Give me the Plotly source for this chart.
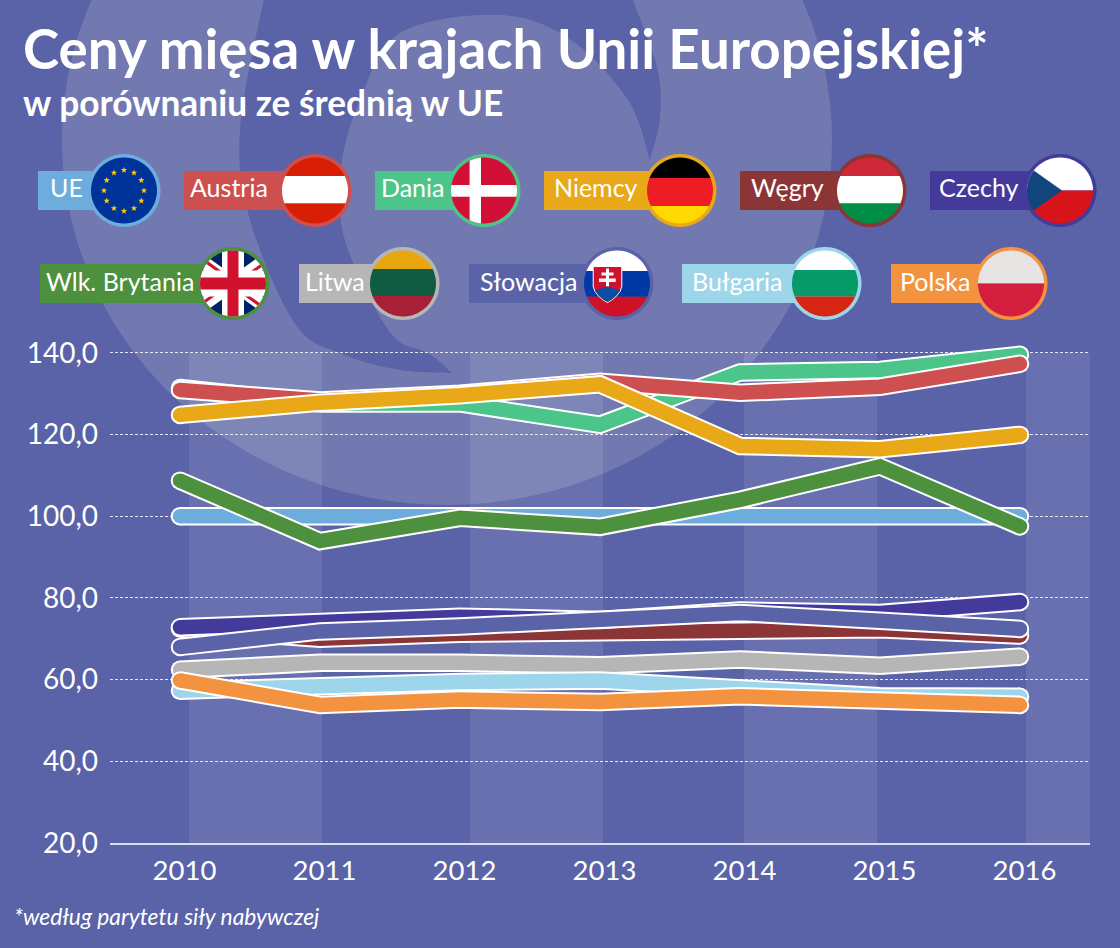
import math
import plotly.graph_objects as go

# ---------- data ----------
years = [2010, 2011, 2012, 2013, 2014, 2015, 2016]
ue = [100, 100, 100, 100, 100, 100, 100]
dania = [131.4, 127.6, 127.6, 122.4, 135.2, 135.8, 139.5]
austria = [130.9, 128.3, 130.0, 132.9, 130.2, 131.7, 137.3]
niemcy = [124.8, 127.8, 129.6, 132.3, 117.2, 116.4, 119.9]
wegry = [72.5, 70.0, 71.2, 71.4, 72.1, 72.3, 70.8]
czechy = [72.8, 74.2, 75.4, 74.6, 76.9, 76.3, 79.0]
slowacja = [68.0, 71.8, 73.0, 74.8, 76.3, 74.4, 72.4]
wlk_brytania = [108.7, 93.9, 99.6, 97.4, 104.0, 112.2, 97.5]
litwa = [62.4, 64.1, 64.1, 63.5, 64.9, 63.4, 65.6]
bulgaria = [57.3, 58.7, 59.4, 59.8, 57.7, 55.9, 55.8]
polska = [59.8, 53.8, 55.1, 54.5, 55.9, 54.6, 53.8]
y_ticks = [20, 40, 60, 80, 100, 120, 140]
y_tick_labels = ["20,0", "40,0", "60,0", "80,0", "100,0", "120,0", "140,0"]
x_tick_labels = ["2010", "2011", "2012", "2013", "2014", "2015", "2016"]

TITLE = "Ceny mięsa w krajach Unii Europejskiej*"
SUBTITLE = "w porównaniu ze średnią w UE"
FOOTNOTE = "*według parytetu siły nabywczej"

# ---------- style ----------
W, H = 1120, 948
BG = "#5a62a8"
LIGHT = "#7279b0"
FONT = "Lato"
series = [
    ("UE", ue, "#6dadde"),
    ("Dania", dania, "#4cc58a"),
    ("Austria", austria, "#cd4f50"),
    ("Niemcy", niemcy, "#e9a818"),
    ("Węgry", wegry, "#8c3537"),
    ("Czechy", czechy, "#433a9c"),
    ("Słowacja", slowacja, BG),
    ("Litwa", litwa, "#b6b6b6"),
    ("Bułgaria", bulgaria, "#9dd6ea"),
    ("Wlk. Brytania", wlk_brytania, "#4d903e"),
    ("Polska", polska, "#f4933f"),
]
colors = {n: c for n, _, c in series}


def X(px):
    return px / W


def Y(py):
    return 1 - py / H


def poly_path(pts):
    return "M" + " L".join(f"{X(x):.5f},{Y(y):.5f}" for x, y in pts) + " Z"


def spline(pts):
    """Catmull-Rom through pts, as cubic Bezier path segments."""
    out = []
    for i in range(len(pts) - 1):
        p0 = pts[max(i - 1, 0)]
        p1 = pts[i]
        p2 = pts[i + 1]
        p3 = pts[min(i + 2, len(pts) - 1)]
        c1 = (p1[0] + (p2[0] - p0[0]) / 6, p1[1] + (p2[1] - p0[1]) / 6)
        c2 = (p2[0] - (p3[0] - p1[0]) / 6, p2[1] - (p3[1] - p1[1]) / 6)
        out.append(
            f"C{X(c1[0]):.5f},{Y(c1[1]):.5f} {X(c2[0]):.5f},{Y(c2[1]):.5f} {X(p2[0]):.5f},{Y(p2[1]):.5f}"
        )
    return " ".join(out)


def pt(p):
    return f"{X(p[0]):.5f},{Y(p[1]):.5f}"


shapes = []
annotations = []


def add_path(path, fill, layer="below"):
    shapes.append(dict(type="path", path=path, xref="paper", yref="paper",
                       fillcolor=fill, line=dict(width=0), layer=layer))


# ---------- background swirl ----------
ell = [(447 + 385 * math.cos(t * math.pi / 60), 140 + 365 * math.sin(t * math.pi / 60)) for t in range(120)]
add_path(poly_path(ell), LIGHT)
outer = [(264, -2), (240, 130), (250, 220), (296, 325), (345, 355), (400, 370), (452, 373)]
inner = [(452, 373), (428, 353), (397, 340), (371, 300), (343, 233), (341, 167), (360, 100),
         (400, 33), (500, 15), (571, 40), (628, 100), (650, 160)]
right = [(650, 160), (660, 117), (657, 67), (632, -2)]
add_path("M" + pt(outer[0]) + " " + spline(outer) + " " + spline(inner) + " " + spline(right) + " Z", BG)

# vertical bands
for a, b in [(189, 322), (470, 603), (744, 877), (1026, 1090)]:
    shapes.append(dict(type="rect", xref="paper", yref="paper", x0=X(a), x1=X(b), y0=Y(843), y1=Y(353),
                       fillcolor="rgba(255,255,255,0.09)", line=dict(width=0), layer="below"))


# ---------- flags ----------
def circle_pts(cx, cy, r, n=90):
    return [(cx + r * math.cos(2 * math.pi * i / n), cy + r * math.sin(2 * math.pi * i / n)) for i in range(n)]


def clip(subject, clipper):
    area = sum(clipper[i][0] * clipper[(i + 1) % len(clipper)][1] - clipper[(i + 1) % len(clipper)][0] * clipper[i][1]
               for i in range(len(clipper)))
    sign = 1 if area > 0 else -1
    out = subject
    for i in range(len(clipper)):
        a, b = clipper[i], clipper[(i + 1) % len(clipper)]
        side = lambda p: sign * ((b[0] - a[0]) * (p[1] - a[1]) - (b[1] - a[1]) * (p[0] - a[0]))
        new = []
        for j in range(len(out)):
            p, q = out[j], out[(j + 1) % len(out)]
            sp, sq = side(p), side(q)
            if sp >= 0:
                new.append(p)
            if sp * sq < 0:
                t = sp / (sp - sq)
                new.append((p[0] + t * (q[0] - p[0]), p[1] + t * (q[1] - p[1])))
        out = new
        if not out:
            break
    return out


R = 33


def in_circle(cx, cy, rel_poly, fill, r=R):
    poly = [(cx + x, cy + y) for x, y in rel_poly]
    res = clip(circle_pts(cx, cy, r), poly)
    if res:
        add_path(poly_path(res), fill, "above")


def stripes(cx, cy, cuts, fills):
    edges = [-40] + cuts + [40]
    for i, f in enumerate(fills):
        in_circle(cx, cy, [(-40, edges[i]), (40, edges[i]), (40, edges[i + 1]), (-40, edges[i + 1])], f)


def bar(x0, y0, x1, y1):
    return [(x0, y0), (x1, y0), (x1, y1), (x0, y1)]


def star(cx, cy, r):
    return [(cx + (r if i % 2 == 0 else r * 0.42) * math.sin(i * math.pi / 5),
             cy - (r if i % 2 == 0 else r * 0.42) * math.cos(i * math.pi / 5)) for i in range(10)]


def flag_ue(c, y):
    in_circle(c, y, bar(-40, -40, 40, 40), "#003399")
    for i in range(12):
        a = i * math.pi / 6
        add_path(poly_path(star(c + 20 * math.sin(a), y - 20.5 * math.cos(a), 3.3)), "#ffcc00", "above")


def flag_dk(c, y):
    in_circle(c, y, bar(-40, -40, 40, 40), "#d20f36")
    in_circle(c, y, bar(-14.4, -40, -3, 40), "#ffffff")
    in_circle(c, y, bar(-40, -5.5, 40, 6.2), "#ffffff")


def flag_cz(c, y):
    stripes(c, y, [0], ["#ffffff", "#d7141a"])
    in_circle(c, y, [(2, 0), (-56, -41), (-56, 41)], "#11457e")


def flag_uk(c, y):
    in_circle(c, y, bar(-40, -40, 40, 40), "#012169")
    dx, dy = 1.0, 0.72
    n = math.hypot(dx, dy)
    for sx in (1, -1):
        ux, uy = sx * dx / n, dy / n
        nx, ny = -uy, ux
        w = 6.5
        in_circle(c, y, [(-50 * ux + w * nx, -50 * uy + w * ny), (50 * ux + w * nx, 50 * uy + w * ny),
                         (50 * ux - w * nx, 50 * uy - w * ny), (-50 * ux - w * nx, -50 * uy - w * ny)], "#ffffff")
        for s in (1, -1):
            o0, o1 = s * 0.3, s * 3.4
            in_circle(c, y, [(s * 50 * ux + o0 * nx, s * 50 * uy + o0 * ny), (s * 50 * ux + o1 * nx, s * 50 * uy + o1 * ny),
                             (o1 * nx, o1 * ny), (o0 * nx, o0 * ny)], "#d0122f")
    in_circle(c, y, bar(-11, -40, 11, 40), "#ffffff")
    in_circle(c, y, bar(-40, -13, 40, 13), "#ffffff")
    in_circle(c, y, bar(-5.5, -40, 5.5, 40), "#d0122f")
    in_circle(c, y, bar(-40, -6, 40, 6), "#d0122f")


def flag_sk(c, y):
    stripes(c, y, [-12.5, 13.2], ["#ffffff", "#0039a6", "#ce1126"])
    shield = [(-24.3, -17.5), (5.3, -17.5), (5.3, 3), (3.5, 8), (0, 12.5), (-4.5, 16.5), (-9.5, 19.5),
              (-14.5, 16.5), (-19, 12.5), (-22.5, 8), (-24.3, 3)]
    abs_s = [(c + x, y + v) for x, v in shield]
    add_path(poly_path(abs_s), "#ffffff", "above")
    inner_s = [(c - 9.5 + (x + 9.5) * 0.93, y + 1 + (v - 1) * 0.95) for x, v in shield]
    add_path(poly_path(inner_s), "#d0122f", "above")
    for b in [bar(-11, -15, -8, 3), bar(-15.5, -11, -3.5, -8), bar(-18, -5, -1.3, -1.5)]:
        add_path(poly_path([(c + x, y + v) for x, v in b]), "#ffffff", "above")
    low = clip(inner_s, [(c - 30, y + 6), (c + 10, y + 6), (c + 10, y + 25), (c - 30, y + 25)])
    add_path(poly_path(low), "#0b4ea2", "above")
    add_path(poly_path([(c - 17, y + 6), (c - 14, y + 4), (c - 9.5, y + 3), (c - 5, y + 4), (c - 2, y + 6)]), "#0b4ea2", "above")


legend_row1 = 190.5
legend_row2 = 283.5
legend_items = [
    ("UE", 38, 48, 124, legend_row1),
    ("Austria", 184, 188, 315, legend_row1),
    ("Dania", 375, 379, 484, legend_row1),
    ("Niemcy", 544, 552, 680, legend_row1),
    ("Węgry", 740, 749, 870, legend_row1),
    ("Czechy", 930, 937, 1060, legend_row1),
    ("Wlk. Brytania", 40, 44, 233, legend_row2),
    ("Litwa", 299, 303, 403, legend_row2),
    ("Słowacja", 469, 478, 617, legend_row2),
    ("Bułgaria", 682, 690, 825, legend_row2),
    ("Polska", 891, 898, 1011, legend_row2),
]
for name, rx, tx, cx, cy in legend_items:
    col = colors[name]
    shapes.append(dict(type="rect", xref="paper", yref="paper", x0=X(rx), x1=X(cx), y0=Y(cy + 19.5), y1=Y(cy - 19.5),
                       fillcolor=col, line=dict(width=0), layer="above"))
    add_path(poly_path(circle_pts(cx, cy, 36.5)), col, "above")
    annotations.append(dict(text=name, x=X(tx), y=Y(cy - 3), xref="paper", yref="paper", xanchor="left", yanchor="middle",
                            showarrow=False, font=dict(family=FONT, size=25, color="#ffffff")))
    if name == "UE":
        flag_ue(cx, cy)
    elif name == "Austria":
        stripes(cx, cy, [-14.5, 13], ["#d81e05", "#ffffff", "#d81e05"])
    elif name == "Dania":
        flag_dk(cx, cy)
    elif name == "Niemcy":
        stripes(cx, cy, [-12.5, 15.5], ["#000000", "#ee1c25", "#ffd900"])
    elif name == "Węgry":
        stripes(cx, cy, [-14.5, 13], ["#ce2939", "#ffffff", "#008d46"])
    elif name == "Czechy":
        flag_cz(cx, cy)
    elif name == "Wlk. Brytania":
        flag_uk(cx, cy)
    elif name == "Litwa":
        stripes(cx, cy, [-14.5, 12.5], ["#e9a70f", "#0f5c42", "#a82035"])
    elif name == "Słowacja":
        flag_sk(cx, cy)
    elif name == "Bułgaria":
        stripes(cx, cy, [-13.5, 13], ["#ffffff", "#059a68", "#d62612"])
    elif name == "Polska":
        stripes(cx, cy, [0], ["#e6e5e3", "#d31e3e"])

# ---------- text ----------
annotations += [
    dict(text=f"<b>{TITLE}</b>", x=X(21), y=Y(48), xref="paper", yref="paper", xanchor="left", yanchor="middle",
         showarrow=False, font=dict(family=FONT, size=54.7, color="#ffffff")),
    dict(text=f"<b>{SUBTITLE}</b>", x=X(21), y=Y(102), xref="paper", yref="paper", xanchor="left", yanchor="middle",
         showarrow=False, font=dict(family=FONT, size=35.3, color="#ffffff")),
    dict(text=f"<i>{FOOTNOTE}</i>", x=X(12), y=Y(916), xref="paper", yref="paper", xanchor="left", yanchor="middle",
         showarrow=False, font=dict(family=FONT, size=22.8, color="#ffffff")),
]

# ---------- chart ----------
fig = go.Figure()
ends = [18.5, 0, 0, 0, 0, 0, 18.5]
ends_in = [14.5, 0, 0, 0, 0, 0, 14.5]
for name, vals, col in series:
    fig.add_trace(go.Scatter(x=years, y=vals, mode="lines+markers", showlegend=False, hoverinfo="skip",
                             line=dict(color="#ffffff", width=18.5),
                             marker=dict(color="#ffffff", size=ends, opacity=1, line=dict(width=0))))
    fig.add_trace(go.Scatter(x=years, y=vals, mode="lines+markers", showlegend=False, name=name,
                             line=dict(color=col, width=14.5),
                             marker=dict(color=col, size=ends_in, opacity=1, line=dict(width=0))))

fig.update_layout(
    width=W, height=H, margin=dict(l=0, r=0, t=0, b=0),
    paper_bgcolor=BG, plot_bgcolor="rgba(0,0,0,0)",
    shapes=shapes, annotations=annotations,
    font=dict(family=FONT, color="#ffffff"),
    xaxis=dict(domain=[X(110), X(1090)], range=[2009.5, 2016.5], automargin=False,
               tickmode="array", tickvals=[v + 4.5 / 140 for v in years], ticktext=x_tick_labels,
               tickfont=dict(family=FONT, size=27.5, color="#ffffff"), showgrid=False, zeroline=False,
               showline=True, linecolor="#d9dcf2", linewidth=1.5, ticks="", ticklabelstandoff=2),
    yaxis=dict(domain=[Y(843), Y(312)], range=[20, 20 + (843 - 312) / 4.085], automargin=False,
               tickmode="array", tickvals=y_ticks, ticktext=y_tick_labels,
               tickfont=dict(family=FONT, size=28, color="#ffffff"), showgrid=True, gridcolor="#e6e8f6", gridwidth=1,
               griddash="3px,2px", zeroline=False, showline=False, ticks="", ticklabelstandoff=11),
)

fig.write_html("out.html", config=dict(displayModeBar=False),
               post_script="document.documentElement.style.margin='0';document.body.style.margin='0';document.body.style.overflow='hidden';")
